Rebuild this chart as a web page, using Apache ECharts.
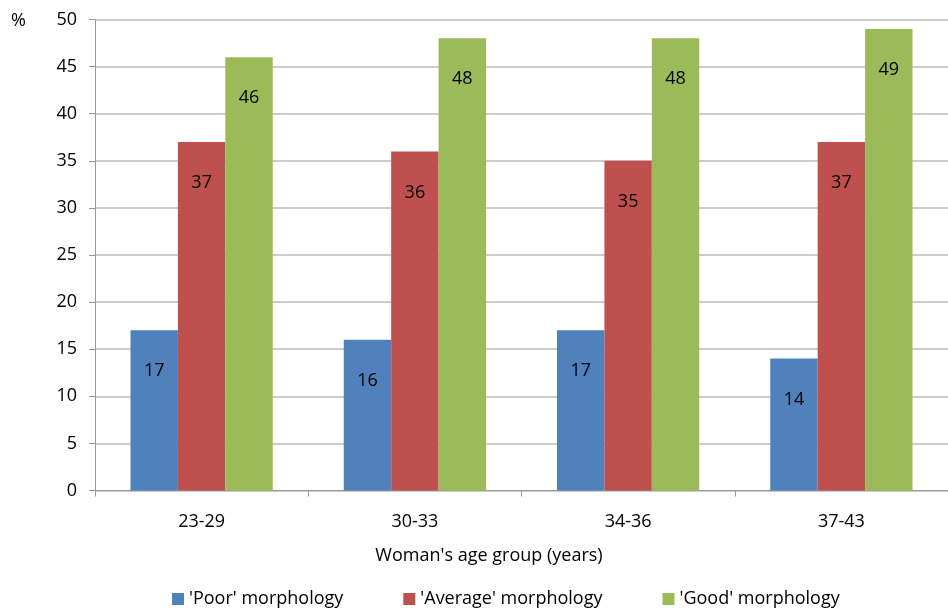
<!DOCTYPE html>
<html>
<head>
<meta charset="utf-8">
<script src="https://cdn.jsdelivr.net/npm/echarts@6/dist/echarts.min.js"></script>
<style>
  html, body { margin: 0; padding: 0; background: #fff; }
  #chart { width: 948px; height: 608px; }
</style>
</head>
<body>
<div id="chart"></div>
<script>
// Age groups on the category axis
const ageGroups = ['23-29', '30-33', '34-36', '37-43'];

// Share of embryos (%) by morphology grade
const poor = [17, 16, 17, 14];
const average = [37, 36, 35, 37];
const good = [46, 48, 48, 49];

const seriesNames = ["'Poor' morphology", "'Average' morphology", "'Good' morphology"];
const colors = ['#4F81BD', '#C0504D', '#9BBB59'];

const font = '"Open Sans", "Noto Sans", sans-serif';
const fontSize = 18;

const chart = echarts.init(document.getElementById('chart'));

function barSeries(name, values, color) {
  return {
    name: name,
    type: 'bar',
    data: values,
    barGap: 0,
    barCategoryGap: '33.3%',
    itemStyle: { color: color },
    label: {
      show: true,
      position: 'insideTop',
      distance: 32,
      color: '#000',
      fontFamily: font,
      fontSize: fontSize
    }
  };
}

chart.setOption({
  animation: false,
  title: {
    text: "Woman's age group (years)",
    left: 484,
    top: 542,
    textAlign: 'center',
    textStyle: { fontFamily: font, fontSize: fontSize, fontWeight: 'normal', color: '#000' }
  },
  legend: {
    data: seriesNames,
    left: 167,
    top: 585,
    itemWidth: 12,
    itemHeight: 12,
    itemGap: 60,
    icon: 'rect',
    textStyle: { fontFamily: font, fontSize: fontSize, color: '#000' }
  },
  grid: { left: 95, top: 19.5, width: 864, height: 471, containLabel: false },
  xAxis: {
    type: 'category',
    data: ageGroups,
    axisLine: { lineStyle: { color: '#999', width: 1 } },
    axisTick: { show: true, length: 6, lineStyle: { color: '#999' } },
    axisLabel: { margin: 22, fontFamily: font, fontSize: fontSize, color: '#000' }
  },
  yAxis: {
    type: 'value',
    min: 0,
    max: 50,
    interval: 5,
    name: '%',
    nameLocation: 'end',
    nameGap: 0,
    nameTextStyle: { fontFamily: font, fontSize: fontSize, color: '#000', align: 'left', padding: [0, 0, -10, -84] },
    axisLine: { show: true, lineStyle: { color: '#999', width: 1 } },
    axisTick: { show: true, length: 6, lineStyle: { color: '#999' } },
    axisLabel: { margin: 18, fontFamily: font, fontSize: fontSize, color: '#000' },
    splitLine: { lineStyle: { color: '#bbb', width: 1.5 } }
  },
  series: [
    barSeries(seriesNames[0], poor, colors[0]),
    barSeries(seriesNames[1], average, colors[1]),
    barSeries(seriesNames[2], good, colors[2])
  ]
});
</script>
</body>
</html>
